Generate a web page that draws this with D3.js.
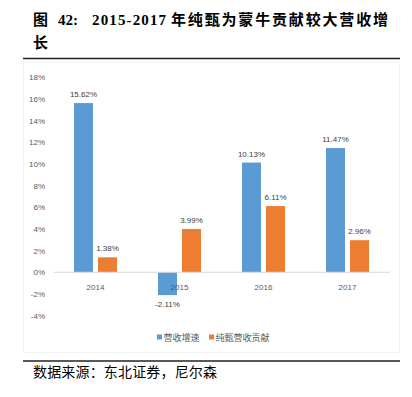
<!DOCTYPE html>
<html>
<head>
<meta charset="utf-8">
<script src="https://cdn.jsdelivr.net/npm/d3@7"></script>
<style>
  body { margin: 0; background: #fff; }
  svg { display: block; }
</style>
</head>
<body>
<div id="chart-area"><svg></svg></div>
<script>
// Data
const years = ["2014", "2015", "2016", "2017"];
const seriesNames = ["营收增速", "纯甄营收贡献"];
const revenueGrowth = [15.62, -2.11, 10.13, 11.47];
const chunzhenContrib = [1.38, 3.99, 6.11, 2.96];
const yTicks = [-4, -2, 0, 2, 4, 6, 8, 10, 12, 14, 16, 18];
const colors = ["#5B9BD5", "#ED7D31"];

const width = 412, height = 397;
const svg = d3.select("#chart-area").select("svg")
    .attr("width", width).attr("height", height);

const cjk = "'Noto Sans CJK SC', sans-serif";
const serif = "'Liberation Serif', 'Noto Sans CJK SC', serif";

// Title (pieces to keep the wide gaps)
const titleStyle = sel => sel.style("font-family", serif).style("font-weight", "bold")
    .style("font-size", "15px").attr("fill", "#000");
svg.append("text").attr("x", 33).attr("y", 25).call(titleStyle).text("图");
svg.append("text").attr("x", 58).attr("y", 25).call(titleStyle).text("42:");
svg.append("text").attr("x", 92).attr("y", 25).call(titleStyle)
    .attr("textLength", 74).attr("lengthAdjust", "spacing").text("2015-2017");
svg.append("text").attr("x", 171).attr("y", 25).call(titleStyle)
    .attr("textLength", 217).attr("lengthAdjust", "spacing")
    .text("年纯甄为蒙牛贡献较大营收增");
svg.append("text").attr("x", 33).attr("y", 48).call(titleStyle).text("长");

svg.append("line").attr("x1", 23).attr("x2", 400).attr("y1", 58.5).attr("y2", 58.5)
    .attr("stroke", "#222").attr("stroke-width", 1.5);

// faint chart frame
svg.append("rect").attr("x", 23.5).attr("y", 62.5).attr("width", 376).attr("height", 290)
    .attr("fill", "none").attr("stroke", "#f2f2f2");

// Scales
const x0 = d3.scaleBand().domain(years).range([53.5, 389.5]).paddingInner(0).paddingOuter(0);
const y = d3.scaleLinear().domain([-4, 18]).range([315.6, 77.3]);

// Y axis labels
svg.append("g").selectAll("text").data(yTicks).join("text")
    .attr("x", 45).attr("y", d => y(d) + 3)
    .attr("text-anchor", "end")
    .style("font-family", "'Liberation Sans', sans-serif").style("font-size", "8px")
    .attr("fill", "#595959")
    .text(d => d + "%");

const series = [revenueGrowth, chunzhenContrib];
const barW = 19, gap = 5;
const offsets = [-(barW + gap / 2), gap / 2];

series.forEach((vals, si) => {
    const g = svg.append("g");
    g.selectAll("rect").data(vals).join("rect")
        .attr("x", (d, i) => x0(years[i]) + x0.bandwidth() / 2 + offsets[si])
        .attr("y", d => y(Math.max(0, d)))
        .attr("width", barW)
        .attr("height", d => Math.abs(y(d) - y(0)))
        .attr("fill", colors[si]);
    g.selectAll("text").data(vals).join("text")
        .attr("x", (d, i) => x0(years[i]) + x0.bandwidth() / 2 + offsets[si] + barW / 2)
        .attr("y", d => d >= 0 ? y(d) - 6 : y(d) + 12)
        .attr("text-anchor", "middle")
        .style("font-family", "'Liberation Sans', sans-serif").style("font-size", "8px")
        .attr("fill", "#404040")
        .text(d => d.toFixed(2) + "%");
});

// zero line
svg.append("line").attr("x1", 53.5).attr("x2", 389.5).attr("y1", y(0)).attr("y2", y(0))
    .attr("stroke", "#d9d9d9").attr("stroke-width", 1);

// category labels
svg.append("g").selectAll("text").data(years).join("text")
    .attr("x", d => x0(d) + x0.bandwidth() / 2)
    .attr("y", 290)
    .attr("text-anchor", "middle")
    .style("font-family", "'Liberation Sans', sans-serif").style("font-size", "8px")
    .attr("fill", "#595959")
    .text(d => d);

// Legend
const legendX = [157, 209];
seriesNames.forEach((name, i) => {
    svg.append("rect").attr("x", legendX[i]).attr("y", 334.5).attr("width", 5).attr("height", 5)
        .attr("fill", colors[i]);
    svg.append("text").attr("x", legendX[i] + 6.5).attr("y", 340.5)
        .style("font-family", cjk).style("font-size", "9px").attr("fill", "#595959")
        .text(name);
});

// bottom rule and source
svg.append("line").attr("x1", 23).attr("x2", 400).attr("y1", 361).attr("y2", 361)
    .attr("stroke", "#222").attr("stroke-width", 1.5);
svg.append("text").attr("x", 33).attr("y", 377)
    .style("font-family", cjk).style("font-size", "14px").attr("fill", "#000")
    .attr("textLength", 184).attr("lengthAdjust", "spacing")
    .text("数据来源：东北证券，尼尔森");
</script>
</body>
</html>
